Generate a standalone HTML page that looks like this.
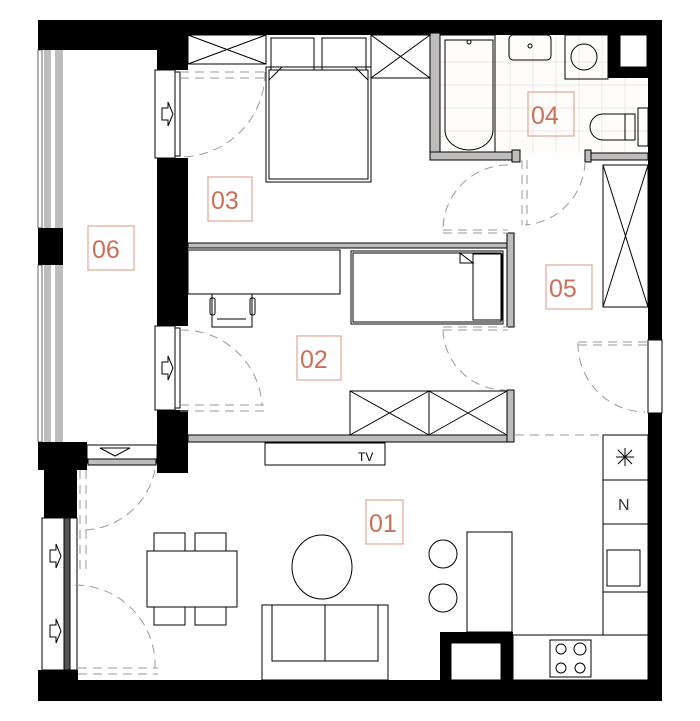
<!DOCTYPE html>
<html><head><meta charset="utf-8"><style>
html,body{margin:0;padding:0;background:#fff;}
svg{display:block}
text{font-family:"Liberation Sans",sans-serif}
.lbl{fill:#c9705a;font-size:25px}
.box{fill:none;stroke:#e0a898;stroke-width:1.2}
.f{fill:none;stroke:#000;stroke-width:1}
.g{fill:#bdbdbd;stroke:#000;stroke-width:1}
.d{fill:none;stroke:#999;stroke-width:1;stroke-dasharray:9,6}
.tl{stroke:#eee7e0;stroke-width:1}
</style></head><body>
<svg width="700" height="721" viewBox="0 0 700 721" xmlns="http://www.w3.org/2000/svg">
<!-- bathroom tiles -->
<g class="tl">
<rect x="440" y="35" width="208" height="118" fill="#fffdfb" stroke="none"/>
<line x1="440" y1="62" x2="648" y2="62"/><line x1="440" y1="85" x2="648" y2="85"/><line x1="440" y1="108" x2="648" y2="108"/><line x1="440" y1="131" x2="648" y2="131"/>
<line x1="510" y1="35" x2="510" y2="153"/><line x1="533" y1="35" x2="533" y2="153"/><line x1="556" y1="35" x2="556" y2="153"/><line x1="579" y1="35" x2="579" y2="153"/><line x1="602" y1="35" x2="602" y2="153"/><line x1="625" y1="35" x2="625" y2="153"/>
</g>
<!-- black walls -->
<g fill="#000">
<rect x="38" y="20" width="624" height="15"/>
<rect x="38" y="20" width="150" height="30"/>
<rect x="157" y="35" width="31" height="35"/>
<rect x="157" y="158" width="31" height="168"/>
<rect x="157" y="410" width="31" height="63"/>
<rect x="648" y="20" width="14" height="320"/>
<rect x="648" y="413" width="14" height="288"/>
<rect x="608" y="33" width="40" height="45"/>
<rect x="38" y="228" width="25" height="37"/>
<rect x="38" y="442" width="49" height="28"/>
<rect x="44" y="470" width="33" height="48"/>
<rect x="38" y="670" width="40" height="31"/>
<rect x="38" y="680" width="624" height="21"/>
<rect x="440" y="632" width="73" height="48"/>
</g>
<rect x="620" y="35" width="27" height="32" fill="#fff" stroke="#000"/>
<rect x="451" y="643" width="50" height="37" fill="#fff" stroke="#000"/>
<!-- left balcony windows -->
<rect x="38" y="50" width="4" height="178" fill="#fff" stroke="#000" stroke-width=".6"/>
<rect x="44" y="50" width="7" height="178" fill="#bdbdbd"/><rect x="55" y="50" width="8" height="178" fill="#bdbdbd"/>
<rect x="38" y="265" width="4" height="177" fill="#fff" stroke="#000" stroke-width=".6"/>
<rect x="44" y="265" width="7" height="177" fill="#bdbdbd"/><rect x="55" y="265" width="8" height="177" fill="#bdbdbd"/>
<!-- doors in left wall (03, 02) -->
<rect x="155" y="70" width="20" height="88" fill="#fff" stroke="#000"/>
<rect x="175" y="72" width="5" height="84" fill="#fff" stroke="#000"/>
<path d="M162 108h6v-6l5 12-5 12v-6h-6z" class="f"/>
<rect x="155" y="326" width="20" height="84" fill="#fff" stroke="#000"/>
<rect x="175" y="328" width="5" height="80" fill="#fff" stroke="#000"/>
<path d="M162 362h6v-6l5 12-5 12v-6h-6z" class="f"/>
<!-- lower left door -->
<rect x="42" y="518" width="22" height="152" fill="#fff" stroke="#000"/>
<rect x="64" y="518" width="6" height="152" fill="#555" stroke="#000"/>
<rect x="70" y="518" width="7" height="152" fill="#fff" stroke="#000"/>
<path d="M50 550h6v-6l5 12-5 12v-6h-6z" class="f"/><path d="M50 625h6v-6l5 12-5 12v-6h-6z" class="f"/>
<!-- corridor window door -->
<rect x="87" y="445" width="70" height="18" fill="#fff" stroke="#000"/>
<rect x="88" y="459" width="68" height="6" fill="#bdbdbd" stroke="#000"/>
<path d="M108 448h10v-0h12l-15 8-15-8z" class="f"/>
<!-- gray partitions -->
<rect x="188" y="243" width="326" height="5" class="g"/>
<rect x="507" y="233" width="7" height="94" class="g"/>
<rect x="188" y="435" width="326" height="7" class="g"/>
<rect x="507" y="390" width="7" height="52" class="g"/>
<rect x="430" y="33" width="10" height="127" class="g"/>
<rect x="430" y="152" width="90" height="8" class="g"/>
<rect x="512" y="150" width="8" height="12" class="g"/>
<rect x="585" y="153" width="63" height="7" class="g"/>
<rect x="585" y="150" width="6" height="12" class="g"/>
<rect x="648" y="340" width="14" height="73" fill="#fff" stroke="#000"/>
<!-- bedroom 03 -->
<rect x="188" y="35" width="78" height="29" class="f"/><path d="M188 35L266 64M266 35L188 64" class="f" stroke-width=".7"/>
<rect x="271" y="38" width="43" height="32" class="f" stroke="#666"/><rect x="322" y="38" width="44" height="32" class="f" stroke="#666"/>
<rect x="266" y="67" width="105" height="115" class="f"/><rect x="269" y="70" width="99" height="109" class="f" stroke="#666"/>
<path d="M269 80l13-13M368 80l-13-13" class="f"/>
<rect x="371" y="35" width="59" height="43" class="f"/><path d="M371 35L430 78M430 35L371 78" class="f" stroke-width=".7"/>
<!-- bathroom -->
<rect x="440" y="35" width="55" height="117" class="f"/>
<path d="M445 40h48v90a24 20 0 0 1 -48 0z" class="f"/><circle cx="469" cy="42" r="2" class="f"/>
<rect x="509" y="35" width="42" height="25" rx="4" class="f"/><circle cx="530" cy="46" r="2" class="f"/>
<rect x="565" y="35" width="43" height="44" class="f"/><circle cx="584" cy="57" r="13" class="f"/>
<path d="M625 114h-22a13 13 0 0 0 0 26h22z" class="f"/><rect x="625" y="114" width="10" height="26" class="f"/><rect x="638" y="108" width="10" height="38" class="f"/>
<!-- room 02 furniture -->
<rect x="188" y="250" width="152" height="44" class="f"/>
<rect x="212" y="294" width="40" height="33" class="f"/><rect x="210" y="298" width="5" height="17" rx="2" class="f"/><rect x="250" y="298" width="5" height="17" rx="2" class="f"/><line x1="217" y1="319" x2="246" y2="319" stroke="#000"/>
<rect x="351" y="251" width="152" height="73" class="f"/><rect x="353" y="253" width="148" height="69" class="f" stroke="#777"/>
<rect x="473" y="254" width="29" height="66" class="f"/><path d="M460 253v10h13v-0z M460 253l13 10" class="f"/>
<rect x="350" y="391" width="157" height="44" class="f"/><line x1="429" y1="391" x2="429" y2="435" stroke="#000"/>
<path d="M350 391L429 435M429 391L350 435M429 391L507 435M507 391L429 435" class="f" stroke-width=".7"/>
<!-- wardrobe 05 -->
<rect x="603" y="165" width="45" height="142" class="f"/><path d="M603 165L648 307M648 165L603 307" class="f" stroke-width=".7"/>
<!-- living 01 -->
<rect x="265" y="443" width="120" height="22" class="f"/><text x="358" y="461" font-size="12">TV</text>
<rect x="603" y="435" width="45" height="200" class="f"/>
<line x1="603" y1="480" x2="648" y2="480" stroke="#000"/><line x1="603" y1="524" x2="648" y2="524" stroke="#000"/><line x1="603" y1="592" x2="648" y2="592" stroke="#000"/>
<path d="M616 457h18M625 448v18M618 450l14 14M632 450l-14 14" class="f" stroke-width=".8"/>
<text x="618" y="510" font-size="16" fill="#333">N</text>
<rect x="607" y="550" width="33" height="36" class="f"/>
<rect x="513" y="635" width="135" height="45" class="f"/><rect x="550" y="640" width="41" height="37" class="f"/>
<circle cx="561" cy="649" r="5" class="f"/><circle cx="580" cy="649" r="6" class="f"/><circle cx="561" cy="668" r="5" class="f"/><circle cx="580" cy="668" r="5" class="f"/>
<rect x="467" y="532" width="45" height="100" class="f"/>
<circle cx="443" cy="554" r="14" class="f"/><circle cx="443" cy="598" r="14" class="f"/>
<ellipse cx="322" cy="567" rx="30" ry="32" class="f"/>
<rect x="262" y="605" width="126" height="75" class="f"/><rect x="272" y="605" width="106" height="56" class="f"/><line x1="325" y1="605" x2="325" y2="661" stroke="#000"/>
<rect x="147" y="551" width="90" height="56" class="f"/>
<rect x="154" y="533" width="31" height="18" class="f"/><rect x="195" y="533" width="31" height="18" class="f"/>
<rect x="154" y="607" width="31" height="18" class="f"/><rect x="195" y="607" width="31" height="18" class="f"/>
<!-- door swings -->
<path d="M180 72h85M180 78h85" class="d"/><path d="M265 72A85 85 0 0 1 180 157" class="d"/>
<path d="M180 405h85M180 411h85" class="d"/><path d="M180 330A80 80 0 0 1 262 405" class="d"/>
<path d="M80 470v100M86 470v100" class="d"/><path d="M155 470A75 75 0 0 1 85 530" class="d"/>
<path d="M78 668h80M78 674h80" class="d"/><path d="M75 585A80 80 0 0 1 155 668" class="d"/>
<path d="M522 160v65M527 160v65" class="d"/><path d="M585 162A65 65 0 0 1 525 225" class="d"/>
<path d="M443 230h65M443 233h65" class="d"/><path d="M508 165A65 65 0 0 0 443 230" class="d"/>
<path d="M443 327h65M443 330h65" class="d"/><path d="M443 330A62 62 0 0 0 505 390" class="d"/>
<path d="M578 342h70M578 345h70" class="d"/><path d="M578 343A68 68 0 0 0 645 412" class="d"/>
<path d="M515 435h88" class="d" stroke-dasharray="26,12" stroke="#888"/>
<!-- labels -->
<rect x="208" y="177" width="44" height="44" class="box"/><text x="211" y="209" class="lbl">03</text>
<rect x="88" y="226" width="46" height="44" class="box"/><text x="92" y="258" class="lbl">06</text>
<rect x="528" y="92" width="46" height="44" class="box"/><text x="531" y="124" class="lbl">04</text>
<rect x="546" y="265" width="46" height="44" class="box"/><text x="549" y="297" class="lbl">05</text>
<rect x="297" y="336" width="44" height="44" class="box"/><text x="300" y="368" class="lbl">02</text>
<rect x="366" y="500" width="37" height="44" class="box"/><text x="369" y="532" class="lbl">01</text>
</svg>
</body></html>
